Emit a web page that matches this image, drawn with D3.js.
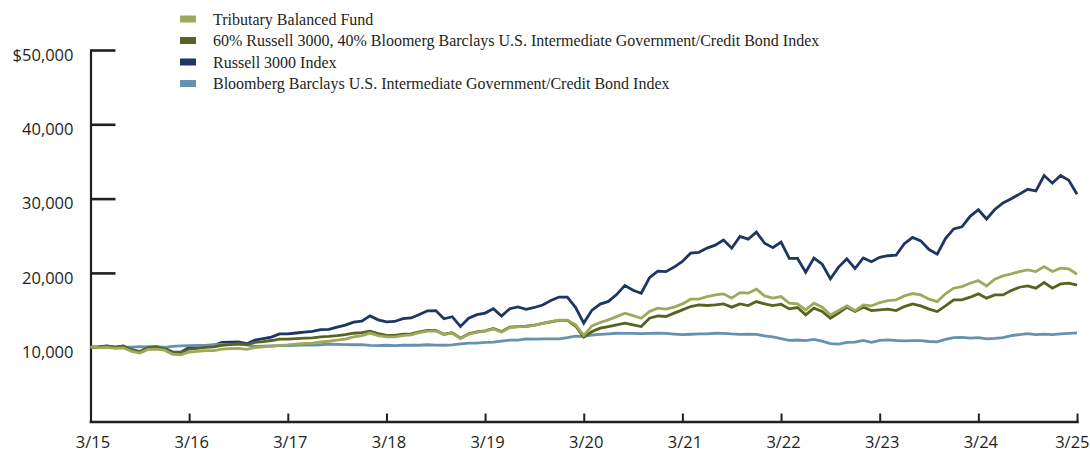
<!DOCTYPE html>
<html><head><meta charset="utf-8">
<script src="https://cdn.jsdelivr.net/npm/d3@7"></script>
<style>body{margin:0;background:#fff}svg{display:block}</style>
</head><body><svg id="c" width="1090" height="458"></svg>
<script>
// ---- data (month-end values of a $10,000 investment, 3/2015 .. 3/2025) ----
const xTickLabels = ["3/15","3/16","3/17","3/18","3/19","3/20","3/21","3/22","3/23","3/24","3/25"];
const yTickValues = [10000, 20000, 30000, 40000, 50000];
const yTickLabels = ["10,000","20,000","30,000","40,000","$50,000"];
const seriesNames = [
  "Tributary Balanced Fund",
  "60% Russell 3000, 40% Bloomerg Barclays U.S. Intermediate Government/Credit Bond Index",
  "Russell 3000 Index",
  "Bloomberg Barclays U.S. Intermediate Government/Credit Bond Index"
];
const fund = [
  10000, 9950, 9980, 9850, 9900, 9450, 9200, 9700, 9750, 9600,
  9050, 8980, 9350, 9450, 9550, 9550, 9750, 9800, 9850, 9700, 9950, 10050,
  10150, 10250, 10300, 10400, 10500, 10550, 10700, 10800, 10950, 11100, 11400, 11550,
  11900, 11550, 11400, 11400, 11550, 11650, 11950, 12150, 12200, 11700, 11900, 11150,
  11750, 12000, 12150, 12450, 12050, 12650, 12750, 12800, 12950, 13200, 13450, 13650,
  13650, 13000, 11600, 12870, 13320, 13680, 14120, 14580, 14260, 13900, 14800, 15250,
  15120, 15390, 15830, 16460, 16460, 16810, 17040, 17180, 16600, 17350, 17270, 17810,
  16900, 16600, 16810, 15920, 15830, 15020, 15920, 15390, 14350, 14930, 15560, 14930,
  15700, 15560, 16010, 16280, 16370, 16900, 17220, 17040, 16460, 16140, 17180, 17940,
  18160, 18610, 18970, 18250, 19150, 19600, 19870, 20180, 20400, 20180, 20850, 20180,
  20630, 20540, 19820
];
const blend = [
  10000, 10030, 10110, 9990, 10090, 9700, 9420, 9950, 9970, 9800,
  9350, 9300, 9750, 9850, 9980, 10050, 10250, 10350, 10500, 10350, 10650, 10760,
  10900, 11080, 11100, 11160, 11220, 11260, 11380, 11450, 11550, 11680, 11880, 11950,
  12150, 11820, 11600, 11580, 11750, 11780, 12050, 12250, 12250, 11750, 11950, 11220,
  11800, 12050, 12200, 12530, 12100, 12700, 12780, 12820, 12980, 13200, 13420, 13620,
  13600, 12850, 11350, 12100, 12560, 12780, 13000, 13230, 13000, 12780, 13900, 14220,
  14130, 14580, 15020, 15470, 15700, 15610, 15700, 15830, 15390, 15830, 15610, 16140,
  15830, 15610, 15790, 15160, 15340, 14350, 15250, 14800, 13900, 14580, 15390, 14800,
  15390, 14930, 15020, 15120, 14930, 15470, 15830, 15560, 15120, 14800, 15560, 16370,
  16370, 16730, 17180, 16600, 17040, 17040, 17620, 18070, 18250, 17940, 18700, 17940,
  18520, 18610, 18350
];
const russell = [
  10000, 10050, 10181, 10008, 10178, 9567, 9290, 10024, 10084, 9882,
  9329, 9329, 9982, 10042, 10223, 10243, 10653, 10685, 10706, 10471, 10942, 11150,
  11362, 11782, 11794, 11912, 12031, 12139, 12370, 12395, 12692, 12971, 13360, 13494,
  14209, 13683, 13410, 13464, 13841, 13938, 14398, 14902, 14932, 13827, 14103, 12792,
  13892, 14378, 14594, 15178, 14191, 15185, 15412, 15104, 15346, 15683, 16279, 16751,
  16734, 15362, 13242, 14990, 15799, 16163, 17084, 18314, 17655, 17266, 19372, 20244,
  20163, 20788, 21536, 22656, 22769, 23338, 23735, 24423, 23324, 24910, 24537, 25494,
  23990, 23390, 24138, 21966, 21944, 20101, 21991, 21177, 19208, 20783, 21884, 20593,
  22014, 21508, 22089, 22310, 22399, 23922, 24783, 24312, 23145, 22520, 24614, 25919,
  26204, 27619, 28503, 27249, 28530, 29414, 29973, 30602, 31245, 31026, 33105, 32079,
  33106, 32477, 30593
];
const bond = [
  10000, 10010, 10030, 9990, 10020, 10010, 10070, 10050, 10030, 9990,
  10120, 10170, 10220, 10240, 10230, 10360, 10390, 10360, 10370, 10320, 10120, 10130,
  10160, 10200, 10200, 10260, 10310, 10290, 10330, 10410, 10370, 10350, 10330, 10350,
  10250, 10220, 10260, 10200, 10260, 10260, 10260, 10330, 10280, 10260, 10320, 10450,
  10550, 10560, 10650, 10670, 10830, 10950, 10960, 11120, 11090, 11130, 11120, 11130,
  11300, 11500, 11450, 11640, 11720, 11790, 11880, 11860, 11870, 11820, 11870, 11890,
  11870, 11770, 11690, 11740, 11790, 11790, 11880, 11860, 11780, 11730, 11750, 11720,
  11520, 11400, 11140, 10910, 10970, 10880, 11060, 10820, 10490, 10420, 10660, 10680,
  10910, 10650, 10920, 10990, 10900, 10840, 10880, 10880, 10770, 10720, 11050, 11300,
  11320, 11220, 11290, 11130, 11200, 11300, 11550, 11700, 11820, 11680, 11750, 11700,
  11780, 11860, 11930
];
const seriesColors = ["#a0a85c", "#55641f", "#1d3662", "#6492b0"];

// ---- chart ----
const svg = d3.select("#c");
const nMonths = russell.length - 1;
const x = d3.scaleLinear().domain([0, nMonths]).range([90.5, 1077]);
const y = d3.scaleLinear().domain([0, 50000]).range([421.5, 50]);
const axisColor = "#231f20";
const sansFont = "'Open Sans', 'Noto Sans', sans-serif";

// y axis
const yAxis = svg.append("g").attr("transform", "translate(90.5,0)")
  .call(d3.axisLeft(y).tickValues(yTickValues)
    .tickFormat((d, i) => yTickLabels[i])
    .tickSizeInner(-25).tickSizeOuter(0).tickPadding(17));
yAxis.select(".domain").attr("stroke", axisColor).attr("stroke-width", 2.2);
yAxis.selectAll(".tick line").attr("stroke", axisColor).attr("stroke-width", 2.6);
yAxis.selectAll(".tick text").attr("fill", axisColor)
  .style("font-family", sansFont).style("font-size", "16.5px").attr("dy", "0.62em");

// x axis
const xAxis = svg.append("g").attr("transform", "translate(0,421.5)")
  .call(d3.axisBottom(x).tickValues(d3.range(0, nMonths + 1, 12))
    .tickFormat((d, i) => xTickLabels[i])
    .tickSizeInner(-8).tickSizeOuter(0).tickPadding(15));
xAxis.select(".domain").attr("stroke", axisColor).attr("stroke-width", 2.6);
xAxis.selectAll(".tick line").attr("stroke", axisColor).attr("stroke-width", 2);
xAxis.selectAll(".tick text").attr("fill", axisColor)
  .style("font-family", sansFont).style("font-size", "16.5px").attr("dx", "2");
// keep the last label inside the picture
xAxis.selectAll(".tick text").filter((d, i, n) => i === n.length - 1)
  .attr("text-anchor", "end").attr("dx", "12");
svg.selectAll(".domain").attr("stroke-linecap", "square");

// lines (drawn bottom to top)
const allSeries = [fund, blend, russell, bond];
const drawOrder = [2, 3, 1, 0];
const line = d3.line().x((d, i) => x(i)).y(d => y(d));
drawOrder.forEach(k => {
  svg.append("path").datum(allSeries[k])
    .attr("fill", "none").attr("stroke", seriesColors[k])
    .attr("stroke-width", 2.8).attr("stroke-linejoin", "miter")
    .attr("d", line);
});

// legend
const legend = svg.append("g");
seriesNames.forEach((name, k) => {
  const cy = 19 + k * 21.5;
  legend.append("rect").attr("x", 180).attr("y", cy - 3.5)
    .attr("width", 16).attr("height", 7).attr("fill", seriesColors[k]);
  legend.append("text").attr("x", 213).attr("y", cy).attr("dy", "0.35em")
    .attr("fill", axisColor)
    .style("font-family", "'Liberation Serif', 'DejaVu Serif', serif")
    .style("font-size", "16px").text(name);
});
</script></body></html>
